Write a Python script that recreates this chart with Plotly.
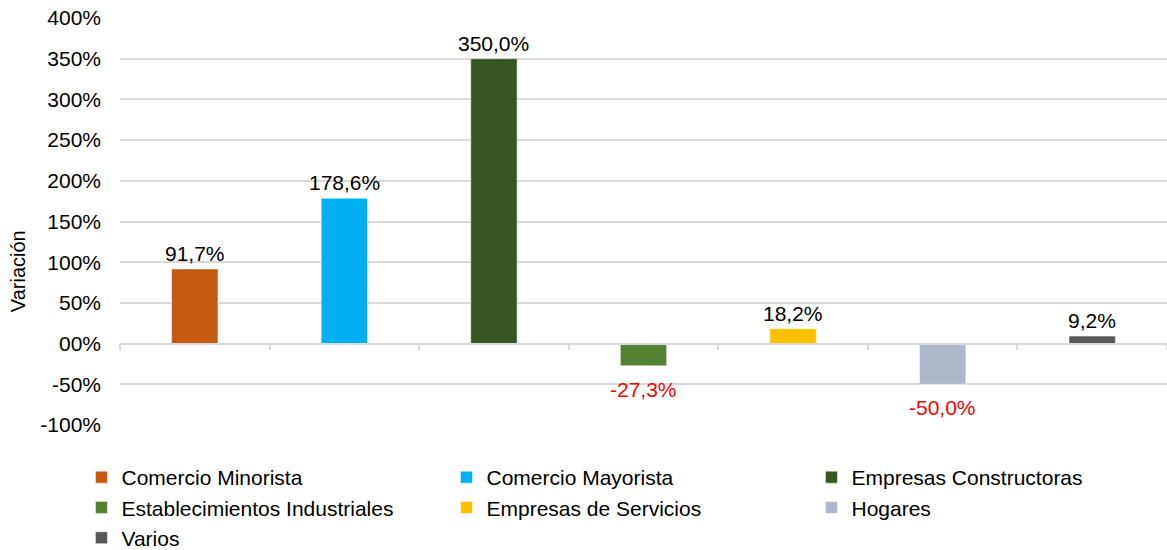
import plotly.graph_objects as go

categorias = [
    "Comercio Minorista",
    "Comercio Mayorista",
    "Empresas Constructoras",
    "Establecimientos Industriales",
    "Empresas de Servicios",
    "Hogares",
    "Varios",
]
variacion = [91.7, 178.6, 350.0, -27.3, 18.2, -50.0, 9.2]
colores = ["#C55A11", "#00B0F0", "#375623", "#548235", "#FFC000", "#ADB9CA", "#595959"]

y_ticks = [-100, -50, 0, 50, 100, 150, 200, 250, 300, 350, 400]
y_labels = ["-100%", "-50%", "00%", "50%", "100%", "150%", "200%", "250%", "300%", "350%", "400%"]

FONT = "Liberation Sans, Arial, Helvetica, sans-serif"

fig = go.Figure()
for cat, val, col in zip(categorias, variacion, colores):
    fig.add_trace(go.Bar(
        x=[cat],
        y=[val],
        name=cat,
        marker_color=col,
        width=0.31,
        hoverinfo="x+y",
    ))
    # etiqueta de datos: negras arriba, rojas debajo si es negativa
    etiqueta = f"{val:.1f}%".replace(".", ",")
    neg = val < 0
    fig.add_annotation(
        x=cat,
        y=val,
        text=etiqueta,
        showarrow=False,
        xanchor="center",
        yanchor="top" if neg else "bottom",
        yshift=-10 if neg else 2,
        font=dict(size=21, family=FONT, color="#FF0000" if neg else "#000000"),
    )

fig.update_layout(
    width=1167,
    height=550,
    barmode="overlay",
    template="plotly_white",
    plot_bgcolor="white",
    paper_bgcolor="white",
    font=dict(family=FONT, size=21, color="#000000"),
    margin=dict(l=120, r=0, t=18, b=125, autoexpand=False),
    showlegend=True,
    legend=dict(
        orientation="h",
        x=-0.0368,
        xanchor="left",
        y=-0.0786,
        yanchor="top",
        entrywidth=320,
        entrywidthmode="pixels",
        font=dict(size=21, family=FONT, color="#000000"),
        itemclick=False,
        traceorder="normal",
    ),
    xaxis=dict(
        categoryorder="array",
        categoryarray=categorias,
        anchor="free",
        position=0.2,
        showticklabels=False,
        showgrid=False,
        showline=True,
        linecolor="#D9D9D9",
        linewidth=1.5,
        ticks="outside",
        tickson="boundaries",
        ticklen=6,
        tickcolor="#D9D9D9",
        tickwidth=1.5,
        zeroline=False,
    ),
    yaxis=dict(
        domain=[0, 1],
        range=[-100, 400],
        tickvals=y_ticks,
        ticktext=y_labels,
        showgrid=True,
        gridcolor="#D9D9D9",
        gridwidth=1.5,
        zeroline=False,
        showline=False,
        ticks="",
        ticklabelstandoff=18,
        tickfont=dict(size=21, family=FONT, color="#000000"),
    ),
)

fig.add_annotation(
    text="Variación",
    xref="paper",
    yref="paper",
    x=-0.0974,
    y=0.378,
    xanchor="center",
    yanchor="middle",
    textangle=-90,
    showarrow=False,
    font=dict(size=20, family=FONT, color="#000000"),
)

# quitar el margen por defecto del <body> para que la figura llene la ventana
fig.write_html(
    "out.html",
    config={"displayModeBar": False},
    post_script="document.body.style.margin='0';",
)
